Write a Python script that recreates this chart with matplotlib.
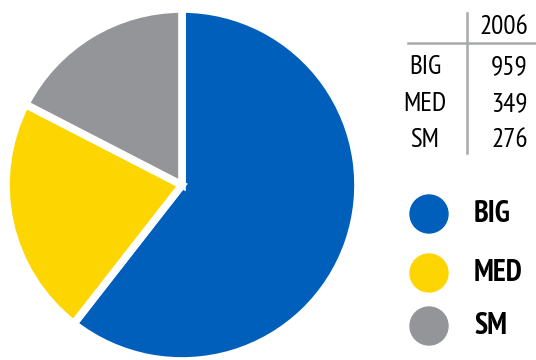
import matplotlib
matplotlib.use('Agg')
import matplotlib.pyplot as plt

# data
labels = ['BIG', 'MED', 'SM']
values = [959, 349, 276]
year = '2006'
colors = ['#005FBA', '#FDD500', '#939598']

plt.rcParams['font.family'] = ['PT Sans Narrow', 'Open Sans Condensed', 'DejaVu Sans']

fig = plt.figure(figsize=(5.36, 3.6), dpi=100)

# pie
ax = fig.add_axes([6 / 536, -1 / 360, 352 / 536, 352 / 360])
ax.pie(values, colors=colors, startangle=90, counterclock=False, radius=1,
       wedgeprops=dict(edgecolor='white', linewidth=5.5))
ax.set_xlim(-1, 1)
ax.set_ylim(-1, 1)
ax.set_aspect('equal')
ax.axis('off')

# table + legend in pixel coords
ov = fig.add_axes([0, 0, 1, 1])
ov.set_xlim(0, 536)
ov.set_ylim(360, 0)
ov.axis('off')

ov.plot([408, 536], [43, 43], color='#A7A9AC', lw=1.8)
ov.plot([467, 467], [13, 153], color='#A7A9AC', lw=1.8)
ov.text(528, 27, year, ha='right', va='center', fontsize=19.5)
rows_y = [67, 104, 140]
for lab, v, y in zip(labels, values, rows_y):
    ov.text(425, y, lab, ha='center', va='center', fontsize=19.5)
    ov.text(528, y, str(v), ha='right', va='center', fontsize=19.5)

leg_y = [214, 273, 326]
for lab, c, y in zip(labels, colors, leg_y):
    ov.add_patch(plt.Circle((429, y), 19, color=c))
    ov.text(474, y, lab, ha='left', va='center', fontsize=21.5, fontweight='bold')

fig.savefig('out.png', dpi=100)
